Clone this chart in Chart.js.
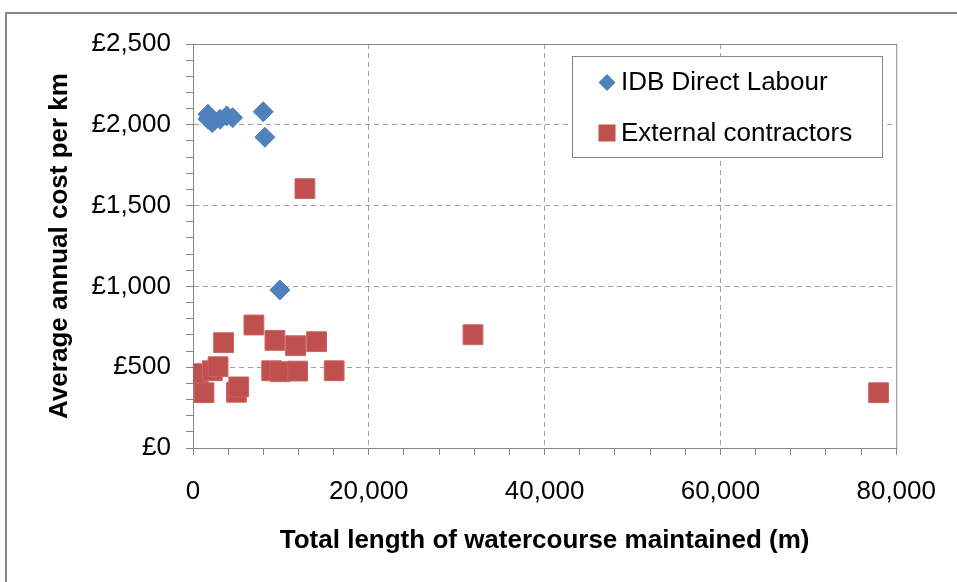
<!DOCTYPE html>
<html lang="en">
<head>
  <meta charset="UTF-8" />
  <title>Average annual cost per km</title>
  <script src="https://cdn.jsdelivr.net/npm/chart.js"></script>
  <style>
    body { margin: 0; background: #fff; }
    #wrap { width: 957px; height: 582px; position: relative; }
  </style>
</head>
<body>
  <div id="wrap"><canvas id="grafico" width="957" height="582"></canvas></div>
  <script>
    // IDB Direct Labour (length in m, cost per km in £)
    const idbX = [1700, 1700, 2200, 3070, 3830, 4510, 7990, 8180, 9880, 9700];
    const idbY = [2065, 2035, 2013, 2034, 2055, 2044, 2081, 1923, 978, 470];
    // External contractors
    const extX = [600, 1250, 2200, 2850, 3480, 4950, 5200, 6930, 8950, 9900, 9320, 11670, 11900, 14060, 16060, 12730, 31850, 77990];
    const extY = [460, 342, 478, 503, 652, 345, 378, 761, 478, 472, 666, 633, 476, 658, 478, 1605, 701, 342];

    const serieNomes = ['IDB Direct Labour', 'External contractors'];
    const cores = ['#4F81BD', '#C0504D'];
    const xTitulo = 'Total length of watercourse maintained (m)';
    const yTitulo = 'Average annual cost per km';

    const fonte = '"Liberation Sans", Arial, sans-serif';
    const cinza = '#868686';

    const pontos = (xs, ys) => xs.map((x, i) => ({ x, y: ys[i] }));

    // frame, plot border and legend box
    const molduraPlugin = {
      id: 'moldura',
      beforeDatasetsDraw(chart) {
        const { ctx, chartArea: a } = chart;
        ctx.save();
        ctx.strokeStyle = cinza;
        ctx.lineWidth = 1;
        ctx.strokeRect(a.left + 0.5, a.top + 0.5, a.right - a.left, a.bottom - a.top);
        ctx.restore();
      },
      afterDraw(chart) {
        const { ctx } = chart;
        ctx.save();
        ctx.strokeStyle = cinza;
        ctx.lineWidth = 2;
        ctx.strokeRect(6, 13, 1100, 1100);

        // legend
        ctx.fillStyle = '#fff';
        ctx.fillRect(572.5, 56.5, 310, 101);
        ctx.lineWidth = 1;
        ctx.strokeRect(572.5, 56.5, 310, 101);

        ctx.fillStyle = cores[0];
        ctx.beginPath();
        ctx.moveTo(607, 74);
        ctx.lineTo(615.5, 82.5);
        ctx.lineTo(607, 91);
        ctx.lineTo(598.5, 82.5);
        ctx.closePath();
        ctx.fill();

        ctx.fillStyle = cores[1];
        ctx.fillRect(598.5, 124.5, 17, 17);

        ctx.fillStyle = '#000';
        ctx.font = '26px ' + fonte;
        ctx.textBaseline = 'middle';
        ctx.fillText(serieNomes[0], 621, 83);
        ctx.fillText(serieNomes[1], 621, 134);
        ctx.restore();
      }
    };

    new Chart(document.getElementById('grafico'), {
      type: 'scatter',
      data: {
        datasets: [
          {
            label: serieNomes[0],
            data: pontos(idbX, idbY),
            pointStyle: 'rectRot',
            pointRadius: 10,
            pointHoverRadius: 10,
            backgroundColor: cores[0],
            borderColor: cores[0],
            borderWidth: 1,
            order: 2
          },
          {
            label: serieNomes[1],
            data: pontos(extX, extY),
            pointStyle: 'rect',
            pointRadius: 14,
            pointHoverRadius: 14,
            backgroundColor: cores[1],
            borderColor: '#c96462',
            borderWidth: 1,
            order: 1
          }
        ]
      },
      options: {
        responsive: false,
        animation: false,
        layout: { padding: { left: 0, top: 44, right: 60, bottom: 0 } },
        plugins: {
          legend: { display: false },
          tooltip: { enabled: false }
        },
        scales: {
          x: {
            type: 'linear',
            min: 0,
            max: 80000,
            afterFit: s => { s.height = 134; },
            ticks: {
              stepSize: 4000,
              autoSkip: false,
              maxRotation: 0,
              padding: 21,
              color: '#000',
              font: { family: fonte, size: 26 },
              callback: v => (v % 20000 === 0 ? v.toLocaleString('en-GB') : '')
            },
            grid: {
              color: c => (c.tick && c.tick.value % 20000 === 0 && c.tick.value > 0 && c.tick.value < 80000 ? '#a0a0a0' : 'transparent'),
              tickColor: cinza,
              tickLength: 7
            },
            border: { display: true, color: cinza, width: 1, dash: [5, 4] },
            title: {
              display: true,
              text: xTitulo,
              color: '#000',
              font: { family: fonte, size: 26, weight: 'bold' },
              padding: { top: 0, bottom: 26 }
            }
          },
          y: {
            type: 'linear',
            min: 0,
            max: 2500,
            afterFit: s => { s.width = 193; },
            ticks: {
              stepSize: 100,
              autoSkip: false,
              padding: 15,
              color: '#000',
              font: { family: fonte, size: 26 },
              callback: v => (v % 500 === 0 ? '£' + v.toLocaleString('en-GB') : '')
            },
            grid: {
              color: c => (c.tick && c.tick.value % 500 === 0 && c.tick.value > 0 && c.tick.value < 2500 ? '#a0a0a0' : 'transparent'),
              tickColor: cinza,
              tickLength: 7
            },
            border: { display: true, color: cinza, width: 1, dash: [5, 4] },
            title: {
              display: true,
              text: yTitulo,
              color: '#000',
              font: { family: fonte, size: 26, weight: 'bold' },
              padding: { top: 44, bottom: 0 }
            }
          }
        }
      },
      plugins: [molduraPlugin]
    });
  </script>
</body>
</html>
